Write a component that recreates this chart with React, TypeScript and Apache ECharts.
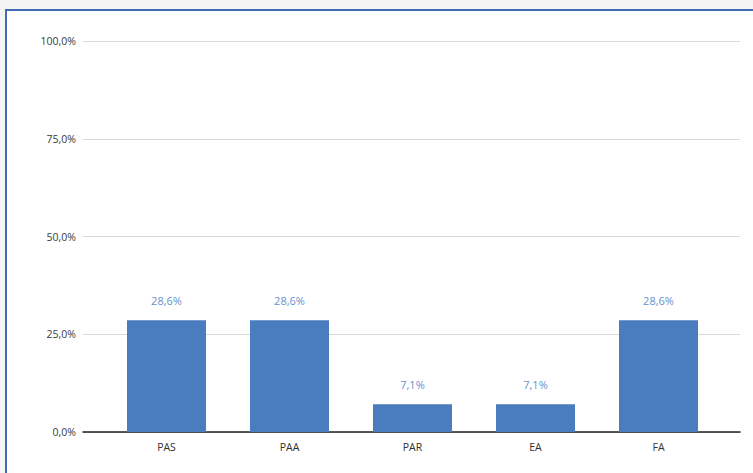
import React, { useEffect, useRef } from "react";
import * as echarts from "echarts";

const categories = ["PAS", "PAA", "PAR", "EA", "FA"];
const values = [28.6, 28.6, 7.1, 7.1, 28.6];
const yTicks = [0, 25, 50, 75, 100];

const fmt = (v: number) => v.toFixed(1).replace(".", ",") + "%";

export default function App() {
  const ref = useRef<HTMLDivElement>(null);
  useEffect(() => {
    if (!ref.current) return;
    const chart = echarts.init(ref.current, null, { renderer: "svg" });
    const font = "'Open Sans', 'Liberation Sans', sans-serif";
    chart.setOption({
      animation: false,
      backgroundColor: "#f4f4f4",
      graphic: [
        {
          type: "rect",
          shape: { x: 6, y: 10, width: 800, height: 500 },
          style: { fill: "#ffffff", stroke: "#3f6cb5", lineWidth: 2 },
          z: -10,
          silent: true,
        },
      ],
      grid: [
        { left: 83, right: 13, top: 41, bottom: 41 },
        { left: 105, right: 33, top: 41, bottom: 41 },
      ],
      xAxis: [
        {
          gridIndex: 0,
          type: "category",
          data: categories,
          axisLine: { show: true, lineStyle: { color: "#222", width: 1.5 } },
          axisTick: { show: false },
          axisLabel: { show: false },
        },
        {
          gridIndex: 1,
          type: "category",
          data: categories,
          axisLine: { show: false },
          axisTick: { show: false },
          axisLabel: { color: "#2f2f2f", fontSize: 10.5, fontFamily: font, margin: 9 },
        },
      ],
      yAxis: [
        {
          gridIndex: 0,
          type: "value",
          min: yTicks[0],
          max: yTicks[yTicks.length - 1],
          interval: yTicks[1] - yTicks[0],
          axisLabel: {
            formatter: (v: number) => fmt(v),
            color: "#3a3a3a",
            fontSize: 10.5,
            fontFamily: font,
            margin: 7,
          },
          axisLine: { show: false },
          axisTick: { show: false },
          splitLine: { lineStyle: { color: "#d9d9d9", width: 1 } },
        },
        {
          gridIndex: 1,
          type: "value",
          min: yTicks[0],
          max: yTicks[yTicks.length - 1],
          interval: yTicks[1] - yTicks[0],
          show: false,
          splitLine: { show: false },
        },
      ],
      series: [
        {
          type: "bar",
          xAxisIndex: 1,
          yAxisIndex: 1,
          data: values,
          barWidth: 79,
          itemStyle: { color: "#4a7dbf" },
          label: {
            show: true,
            position: "top",
            distance: 14,
            color: "#6593cf",
            fontSize: 11,
            fontFamily: font,
            formatter: (p: any) => fmt(p.value),
          },
        },
      ],
    });
    return () => chart.dispose();
  }, []);
  return (
    <div
      ref={ref}
      style={{ position: "fixed", left: 0, top: 0, width: 753, height: 473 }}
    />
  );
}
